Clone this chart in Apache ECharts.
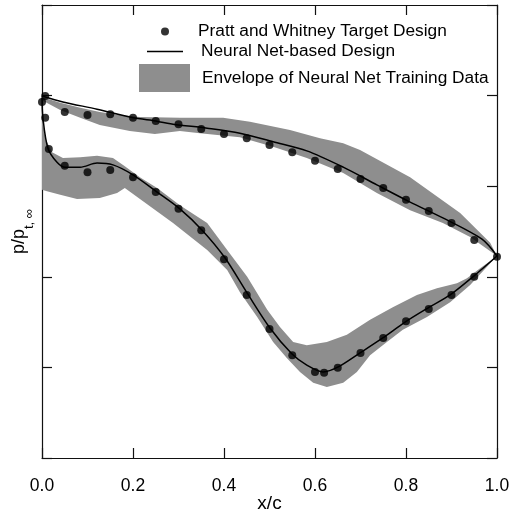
<!DOCTYPE html>
<html>
<head>
<meta charset="utf-8">
<script src="https://cdn.jsdelivr.net/npm/echarts@6/dist/echarts.min.js"></script>
<style>
html,body{margin:0;padding:0;background:#fff;}
#chart{width:513px;height:514px;}
</style>
</head>
<body>
<div id="chart"></div>
<script>
// ---- Data ----
const xTicks = [0.0, 0.2, 0.4, 0.6, 0.8, 1.0];

// Pratt and Whitney target design (pressure side / suction side)
const psTargetX = [0.0, 0.007, 0.05, 0.10, 0.15, 0.20, 0.25, 0.30, 0.35, 0.40, 0.45, 0.50, 0.55, 0.60, 0.65, 0.70, 0.75, 0.80, 0.85, 0.90, 0.95, 1.00];
const psTargetY = [0.786, 0.799, 0.764, 0.757, 0.759, 0.751, 0.744, 0.737, 0.726, 0.715, 0.706, 0.691, 0.675, 0.656, 0.638, 0.616, 0.596, 0.570, 0.545, 0.519, 0.481, 0.444];
const ssTargetX = [0.007, 0.015, 0.05, 0.10, 0.15, 0.20, 0.25, 0.30, 0.35, 0.40, 0.45, 0.50, 0.55, 0.60, 0.62, 0.65, 0.70, 0.75, 0.80, 0.85, 0.90, 0.95];
const ssTargetY = [0.751, 0.682, 0.645, 0.631, 0.636, 0.620, 0.587, 0.550, 0.503, 0.439, 0.360, 0.285, 0.227, 0.190, 0.188, 0.199, 0.232, 0.265, 0.302, 0.329, 0.360, 0.400];

// Neural-net based design
const psNNX = [0, 0.046, 0.121, 0.193, 0.237, 0.288, 0.363, 0.435, 0.508, 0.582, 0.662, 0.736, 0.809, 0.881, 0.967, 1.0];
const psNNY = [0.799, 0.786, 0.770, 0.753, 0.746, 0.737, 0.728, 0.717, 0.698, 0.678, 0.642, 0.603, 0.565, 0.530, 0.483, 0.446];
const ssNNX = [0, 0.002, 0.013, 0.033, 0.051, 0.084, 0.121, 0.156, 0.200, 0.253, 0.303, 0.352, 0.402, 0.451, 0.501, 0.549, 0.582, 0.618, 0.651, 0.699, 0.749, 0.798, 0.848, 0.897, 0.947, 1.0];
const ssNNY = [0.795, 0.751, 0.684, 0.653, 0.642, 0.642, 0.651, 0.647, 0.625, 0.587, 0.550, 0.503, 0.442, 0.364, 0.287, 0.230, 0.205, 0.190, 0.201, 0.232, 0.265, 0.300, 0.331, 0.360, 0.400, 0.446];

// Envelope of neural net training data
const psEnvTopX = [0, 0.040, 0.084, 0.127, 0.171, 0.215, 0.303, 0.398, 0.457, 0.545, 0.611, 0.662, 0.699, 0.809, 0.919, 0.985, 1.0];
const psEnvTopY = [0.797, 0.784, 0.773, 0.764, 0.757, 0.753, 0.751, 0.751, 0.742, 0.724, 0.706, 0.695, 0.680, 0.620, 0.541, 0.475, 0.446];
const psEnvBotX = [0, 0.040, 0.084, 0.127, 0.193, 0.248, 0.303, 0.347, 0.435, 0.508, 0.582, 0.662, 0.736, 0.809, 0.881, 0.941, 0.969, 1.0];
const psEnvBotY = [0.790, 0.768, 0.751, 0.735, 0.722, 0.715, 0.722, 0.717, 0.708, 0.687, 0.662, 0.629, 0.585, 0.547, 0.519, 0.488, 0.468, 0.446];
const ssEnvTopX = [0, 0.009, 0.022, 0.046, 0.084, 0.121, 0.156, 0.182, 0.215, 0.253, 0.303, 0.363, 0.407, 0.451, 0.495, 0.523, 0.552, 0.582, 0.626, 0.670, 0.721, 0.771, 0.824, 0.868, 0.912, 0.934, 0.963, 1.0];
const ssEnvTopY = [0.751, 0.702, 0.675, 0.662, 0.664, 0.667, 0.662, 0.644, 0.620, 0.596, 0.558, 0.519, 0.459, 0.400, 0.327, 0.289, 0.256, 0.249, 0.256, 0.272, 0.305, 0.333, 0.360, 0.375, 0.386, 0.397, 0.419, 0.446];
const ssEnvBotX = [0, 0.011, 0.040, 0.077, 0.127, 0.165, 0.182, 0.288, 0.363, 0.407, 0.435, 0.473, 0.508, 0.538, 0.567, 0.596, 0.626, 0.662, 0.692, 0.721, 0.758, 0.793, 0.846, 0.897, 0.941, 0.978, 1.0];
const ssEnvBotY = [0.592, 0.589, 0.581, 0.572, 0.574, 0.585, 0.596, 0.519, 0.459, 0.415, 0.366, 0.311, 0.256, 0.221, 0.190, 0.166, 0.157, 0.166, 0.190, 0.227, 0.256, 0.283, 0.311, 0.344, 0.382, 0.422, 0.446];

const NAME_PW = 'Pratt and Whitney Target Design';
const NAME_NN = 'Neural Net-based Design';
const NAME_ENV = 'Envelope of Neural Net Training Data';

// ---- helpers ----
const zip = (xs, ys) => xs.map((x, i) => [x, ys[i]]);
const polygon = (tx, ty, bx, by) => zip(tx, ty).concat(zip(bx, by).reverse());
const envelopes = [
  polygon(psEnvTopX, psEnvTopY, psEnvBotX, psEnvBotY),
  polygon(ssEnvTopX, ssEnvTopY, ssEnvBotX, ssEnvBotY)
];

const FONT = 'Liberation Sans, Arial, Helvetica, sans-serif';
const ENV_COLOR = '#8e8e8e';
const AX = '#111';
const LEG_FS = 17.3;

const chart = echarts.init(document.getElementById('chart'), null, {renderer: 'canvas'});

function axisCommon() {
  return {
    axisLine: {show: true, onZero: false, lineStyle: {color: AX, width: 1.2}},
    axisTick: {show: true, inside: true, length: 10, lineStyle: {color: AX, width: 1.2}},
    splitLine: {show: false}
  };
}

const option = {
  animation: false,
  backgroundColor: '#fff',
  grid: {left: 42, right: 16, top: 5, bottom: 56, containLabel: false, outerBoundsMode: 'none'},
  xAxis: [
    Object.assign({
      type: 'value', position: 'bottom', min: 0, max: 1, interval: 0.2,
      name: 'x/c', nameLocation: 'middle', nameGap: 36, nameMoveOverlap: false,
      nameTextStyle: {fontFamily: FONT, fontSize: 19, color: '#000'},
      axisLabel: {show: true, margin: 19, fontFamily: FONT, fontSize: 17.5, color: '#000',
        formatter: v => v.toFixed(1)}
    }, axisCommon()),
    Object.assign({
      type: 'value', position: 'top', min: 0, max: 1, interval: 0.2,
      axisLabel: {show: false}
    }, axisCommon())
  ],
  yAxis: [
    Object.assign({
      type: 'value', position: 'left', min: 0, max: 1, interval: 0.2,
      axisLabel: {show: false},
      name: '{a|p/p}{b|t, ∞}', nameLocation: 'middle', nameGap: 6, nameRotate: 90, nameMoveOverlap: false,
      nameTextStyle: {
        fontFamily: FONT, color: '#000',
        rich: {
          a: {fontFamily: FONT, fontSize: 18, color: '#000', verticalAlign: 'top', lineHeight: 20},
          b: {fontFamily: FONT, fontSize: 13, color: '#000', verticalAlign: 'bottom', lineHeight: 26}
        }
      }
    }, axisCommon()),
    Object.assign({
      type: 'value', position: 'right', min: 0, max: 1, interval: 0.2,
      axisLabel: {show: false}
    }, axisCommon())
  ],
  legend: [
    {
      left: 161, top: 23, padding: 0, orient: 'vertical', itemWidth: 8, itemHeight: 8,
      selectedMode: false,
      textStyle: {fontFamily: FONT, fontSize: LEG_FS, color: '#000', padding: [4, 0, 0, 24]},
      data: [{name: NAME_PW, icon: 'circle', itemStyle: {color: '#000'}}]
    },
    {
      left: 147, top: 43, padding: 0, orient: 'vertical', itemWidth: 36, itemHeight: 1.5,
      selectedMode: false,
      textStyle: {fontFamily: FONT, fontSize: LEG_FS, color: '#000', padding: [4, 0, 0, 13]},
      data: [{name: NAME_NN, icon: 'rect', itemStyle: {color: '#000'}}]
    },
    {
      left: 139, top: 64, padding: 0, orient: 'vertical', itemWidth: 51, itemHeight: 28,
      selectedMode: false,
      textStyle: {fontFamily: FONT, fontSize: LEG_FS, color: '#000', padding: [4, 0, 0, 7]},
      data: [{name: NAME_ENV, icon: 'rect', itemStyle: {color: ENV_COLOR}}]
    }
  ],
  series: [
    {
      name: NAME_ENV, type: 'custom', z: 1,
      itemStyle: {color: ENV_COLOR},
      data: envelopes.map((p, i) => [p[0][0], p[0][1], i]),
      renderItem: function (params, api) {
        const poly = envelopes[params.dataIndex];
        return {
          type: 'polygon',
          shape: {points: poly.map(pt => api.coord(pt))},
          style: {fill: ENV_COLOR, stroke: null}
        };
      },
      silent: true
    },
    {
      name: NAME_NN, type: 'line', z: 3, data: zip(psNNX, psNNY),
      showSymbol: false, smooth: 0.3, lineStyle: {color: '#000', width: 1.5}, itemStyle: {color: '#000'}
    },
    {
      name: NAME_NN, type: 'line', z: 3, data: zip(ssNNX, ssNNY),
      showSymbol: false, smooth: 0.3, lineStyle: {color: '#000', width: 1.5}, itemStyle: {color: '#000'}
    },
    {
      name: NAME_PW, type: 'scatter', z: 4, data: zip(psTargetX, psTargetY),
      symbol: 'circle', symbolSize: 8, itemStyle: {color: '#000'}
    },
    {
      name: NAME_PW, type: 'scatter', z: 4, data: zip(ssTargetX, ssTargetY),
      symbol: 'circle', symbolSize: 8, itemStyle: {color: '#000'}
    }
  ]
};
chart.setOption(option);
</script>
</body>
</html>
